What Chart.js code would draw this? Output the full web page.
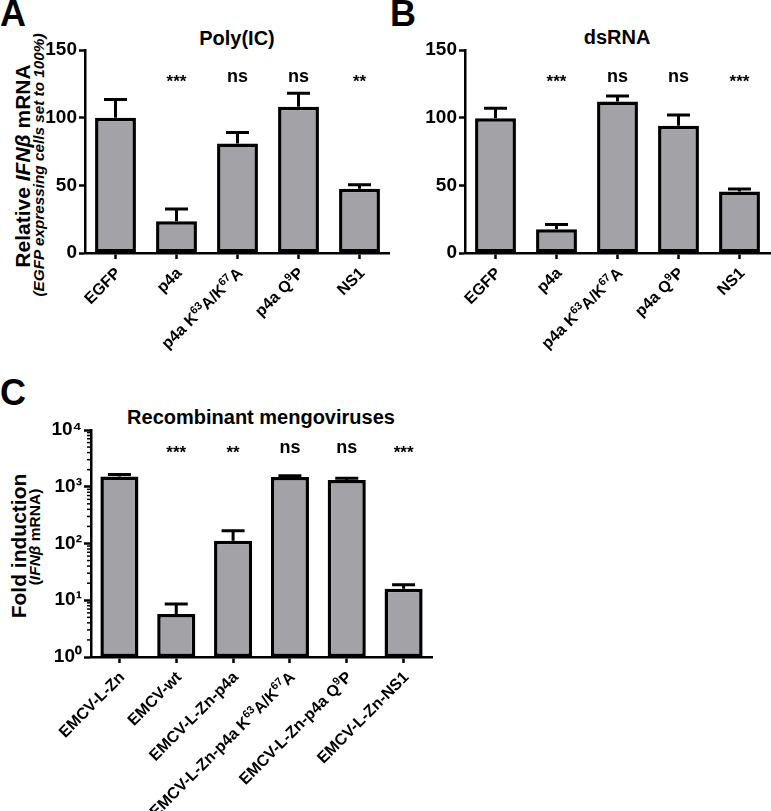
<!DOCTYPE html>
<html>
<head>
<meta charset="utf-8">
<script src="https://cdn.jsdelivr.net/npm/chart.js@4.4.1/dist/chart.umd.min.js"></script>
<style>
  html, body { margin: 0; padding: 0; background: #fff; }
  body { width: 771px; height: 811px; position: relative; overflow: hidden;
         font-family: "Liberation Sans", Arial, sans-serif; color: #000; }
  .panel { position: absolute; }
  .letter { position: absolute; font-weight: bold; font-size: 36px; line-height: 1; }
  .title { position: absolute; font-weight: bold; font-size: 20px; line-height: 1;
           white-space: nowrap; transform: translate(-50%, -50%); }
  .ytitle { position: absolute; font-weight: bold; line-height: 1; white-space: nowrap;
            transform: translate(-50%, -50%) rotate(-90deg); }
</style>
</head>
<body>

<div class="letter" style="left:0px; top:-4px;">A</div>
<div class="letter" style="left:390px; top:-4px;">B</div>
<div class="letter" style="left:0px; top:375px;">C</div>

<div class="title" style="left:237px; top:38px;">Poly(IC)</div>
<div class="title" style="left:617px; top:37px;">dsRNA</div>
<div class="title" style="left:261px; top:417px;">Recombinant mengoviruses</div>

<div class="ytitle" style="left:22px; top:166px; font-size:21px;">Relative <i>IFNβ</i> mRNA</div>
<div class="ytitle" style="left:39px; top:165px; font-size:15.3px; font-style:italic;">(EGFP expressing cells set to 100%)</div>
<div class="ytitle" style="left:18px; top:546px; font-size:21px;">Fold induction</div>
<div class="ytitle" style="left:35px; top:537px; font-size:15.5px;">(<i>IFNβ</i> mRNA)</div>

<div class="panel" style="left:0; top:0; width:390px; height:400px;"><canvas id="chartA"></canvas></div>
<div class="panel" style="left:390px; top:0; width:381px; height:400px;"><canvas id="chartB"></canvas></div>
<div class="panel" style="left:0; top:400px; width:560px; height:411px;"><canvas id="chartC"></canvas></div>

<script>
// panel A + B categories
var cellLabels = ['EGFP', 'p4a', 'p4a K⁶³A/K⁶⁷A', 'p4a Q⁹P', 'NS1'];

// A: Poly(IC)
var polyValues = [100, 23.5, 81, 108, 47.5];
var polyErrors = [113.5, 32.5, 89, 118, 50.5];
var polySig = ['', '***', 'ns', 'ns', '**'];

// B: dsRNA
var dsValues = [99.5, 17.5, 112, 94, 45.5];
var dsErrors = [107, 21, 116, 102, 47.3];
var dsSig = ['', '***', 'ns', 'ns', '***'];

// C: recombinant mengoviruses (log axis)
var virusLabels = ['EMCV-L-Zn', 'EMCV-wt', 'EMCV-L-Zn-p4a', 'EMCV-L-Zn-p4a K⁶³A/K⁶⁷A', 'EMCV-L-Zn-p4a Q⁹P', 'EMCV-L-Zn-NS1'];
var virusValues = [1510, 5.7, 112, 1480, 1310, 16];
var virusErrors = [1650, 8.6, 167, 1570, 1410, 18.7];
var virusSig = ['', '***', '**', 'ns', 'ns', '***'];

var linearTicks = [0, 50, 100, 150];
var logTicks = [1, 10, 100, 1000, 10000];
var logTickLabels = ['10⁰', '10¹', '10²', '10³', '10⁴'];

var FONT = '"Liberation Sans", Arial, sans-serif';
Chart.defaults.font.family = FONT;
Chart.defaults.color = '#000';

var SUPS = '⁰¹²³⁴⁵⁶⁷⁸⁹';

// split a label into normal / superscript runs
function splitRuns(text) {
    var runs = [];
    for (var i = 0; i < text.length; i++) {
        var ch = text.charAt(i);
        var k = SUPS.indexOf(ch);
        var sup = k >= 0;
        var c = sup ? String(k) : ch;
        if (runs.length && runs[runs.length - 1].sup === sup) runs[runs.length - 1].t += c;
        else runs.push({ t: c, sup: sup });
    }
    return runs;
}

// category labels at 45 degrees, ending at the tick
function drawSlanted(ctx, text, x, y, size) {
    var runs = splitRuns(text);
    var total = 0;
    runs.forEach(function(r) {
        ctx.font = 'bold ' + (r.sup ? Math.round(size * 0.66) : size) + 'px ' + FONT;
        r.w = ctx.measureText(r.t).width;
        total += r.w;
    });
    ctx.save();
    ctx.translate(x, y);
    ctx.rotate(-Math.PI / 4);
    ctx.textAlign = 'left';
    ctx.textBaseline = 'alphabetic';
    var cx = -total;
    runs.forEach(function(r) {
        ctx.font = 'bold ' + (r.sup ? Math.round(size * 0.66) : size) + 'px ' + FONT;
        ctx.fillText(r.t, cx, 0.36 * size - (r.sup ? 0.38 * size : 0));
        cx += r.w;
    });
    ctx.restore();
}

// upper error bars, significance marks, x labels and minor log ticks
var errorBarPlugin = {
    id: 'errorBars',
    afterDatasetsDraw: function(chart, args, opts) {
        var ctx = chart.ctx;
        var meta = chart.getDatasetMeta(0);
        var y = chart.scales.y;
        var x = chart.scales.x;
        ctx.save();
        ctx.strokeStyle = '#000';
        ctx.lineWidth = 3;
        meta.data.forEach(function(bar, i) {
            var top = y.getPixelForValue(opts.errors[i]);
            ctx.beginPath();
            ctx.moveTo(bar.x, bar.y);
            ctx.lineTo(bar.x, top);
            ctx.moveTo(bar.x - opts.cap, top);
            ctx.lineTo(bar.x + opts.cap, top);
            ctx.stroke();
        });

        var sy = y.getPixelForValue(opts.sigAt);
        ctx.fillStyle = '#000';
        ctx.textAlign = 'center';
        ctx.textBaseline = 'alphabetic';
        meta.data.forEach(function(bar, i) {
            var s = opts.sig[i];
            if (!s) return;
            var star = s.charAt(0) === '*';
            var size = star ? 17 : 18;
            ctx.font = 'bold ' + size + 'px ' + FONT;
            ctx.fillText(s, bar.x, sy + (star ? 0.6 : 0.27) * size);
        });

        chart.data.labels.forEach(function(lab, i) {
            drawSlanted(ctx, lab, x.getPixelForTick(i) + 2, x.top + 17, 16);
        });

        if (opts.minorTicks) {
            var left = chart.chartArea.left;
            ctx.lineWidth = 1.5;
            for (var d = 0; d < logTicks.length - 1; d++) {
                for (var k = 2; k < 10; k++) {
                    var py = y.getPixelForValue(k * logTicks[d]);
                    ctx.beginPath();
                    ctx.moveTo(left - 4, py);
                    ctx.lineTo(left, py);
                    ctx.stroke();
                }
            }
        }
        ctx.restore();
    }
};

function makeChart(id, labels, values, errors, sig, sigAt, yScale, area) {
    var ctx = document.getElementById(id).getContext('2d');
    return new Chart(ctx, {
        type: 'bar',
        data: {
            labels: labels,
            datasets: [{
                data: values,
                backgroundColor: '#a3a3a7',
                borderColor: '#000',
                borderWidth: 3.5,
                borderSkipped: false,
                barPercentage: 0.67,
                categoryPercentage: 1
            }]
        },
        options: {
            responsive: true,
            maintainAspectRatio: false,
            animation: false,
            layout: { padding: { top: area.top, right: area.right, left: 0, bottom: 0 } },
            plugins: {
                legend: { display: false },
                tooltip: { enabled: false },
                errorBars: { errors: errors, sig: sig, sigAt: sigAt, cap: 11.5, minorTicks: yScale.type === 'logarithmic' }
            },
            scales: {
                x: {
                    offset: true,
                    afterFit: function(s) { s.height = area.xHeight; },
                    grid: { display: true, drawOnChartArea: false, offset: false, color: '#000', tickLength: 6, tickWidth: 2.5 },
                    border: { display: true, color: '#000', width: 2.5 },
                    ticks: { display: false, autoSkip: false }
                },
                y: yScale
            }
        },
        plugins: [errorBarPlugin]
    });
}

function linearY(width) {
    return {
        min: 0, max: 150,
        afterBuildTicks: function(s) { s.ticks = linearTicks.map(function(v) { return { value: v }; }); },
        afterFit: function(s) { s.width = width; },
        grid: { display: true, drawOnChartArea: false, color: '#000', tickLength: 6, tickWidth: 2.5 },
        border: { display: true, color: '#000', width: 2.5 },
        ticks: { padding: 2, font: { size: 19, weight: 'bold' } }
    };
}

makeChart('chartA', cellLabels, polyValues, polyErrors, polySig, 130, linearY(85),
          { top: 50, right: 0, xHeight: 147 });
makeChart('chartB', cellLabels, dsValues, dsErrors, dsSig, 130, linearY(75),
          { top: 50, right: 1, xHeight: 147 });
makeChart('chartC', virusLabels, virusValues, virusErrors, virusSig, 4780, {
        type: 'logarithmic',
        min: 1, max: 10000,
        afterBuildTicks: function(s) { s.ticks = logTicks.map(function(v) { return { value: v }; }); },
        afterFit: function(s) { s.width = 91; },
        grid: { display: true, drawOnChartArea: false, color: '#000', tickLength: 7, tickWidth: 2.5 },
        border: { display: true, color: '#000', width: 2.5 },
        ticks: { padding: 2, font: { size: 19, weight: 'bold' },
                 callback: function(v, i) { return logTickLabels[i]; } }
    }, { top: 30, right: 128, xHeight: 154 });
</script>
</body>
</html>
